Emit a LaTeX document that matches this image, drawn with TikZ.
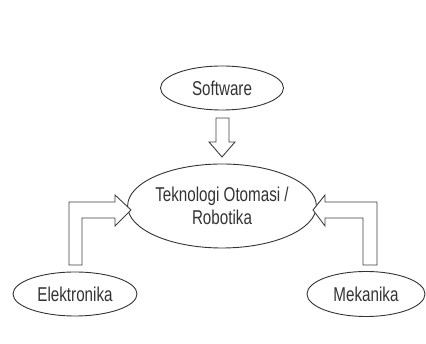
\documentclass[tikz,border=0pt]{standalone}
\usepackage{fontspec}
\setmainfont{Liberation Sans}[FakeStretch=0.76]
\usetikzlibrary{shapes.geometric}
\begin{document}
\begin{tikzpicture}[x=1pt,y=1pt,
  oval/.style={ellipse,draw=black!80,line width=0.9pt,inner sep=0pt,font=\fontsize{20}{23}\selectfont,text=black!80,align=center},
  blockarrow/.style={draw=black!75,line width=0.9pt,fill=white,line join=miter}]
\useasboundingbox (0,0) rectangle (426,344);
\node[oval,minimum width=123,minimum height=44] (sw) at (222,256) {Software};
\node[oval,minimum width=172,minimum height=84] (main) at (222,138) {Teknologi Otomasi /\\Robotika};
\node[oval,minimum width=124,minimum height=44] (el) at (75,50) {Elektronika};
\node[oval,minimum width=118,minimum height=45] (me) at (366,50) {Mekanika};
% down arrow from Software to main
\draw[blockarrow] (216,226) -- (216,202) -- (209,202) -- (222,187) -- (235,202) -- (229,202) -- (229,226) -- cycle;
% bent arrow from Elektronika
\draw[blockarrow] (69,79) -- (69,142) -- (115,142) -- (115,149) -- (131,134) -- (115,118) -- (115,126) -- (82,126) -- (82,79) -- cycle;
% bent arrow from Mekanika
\draw[blockarrow] (377,79) -- (377,142) -- (325,142) -- (325,149) -- (313,134) -- (325,118) -- (325,126) -- (363,126) -- (363,79) -- cycle;
\end{tikzpicture}
\end{document}
